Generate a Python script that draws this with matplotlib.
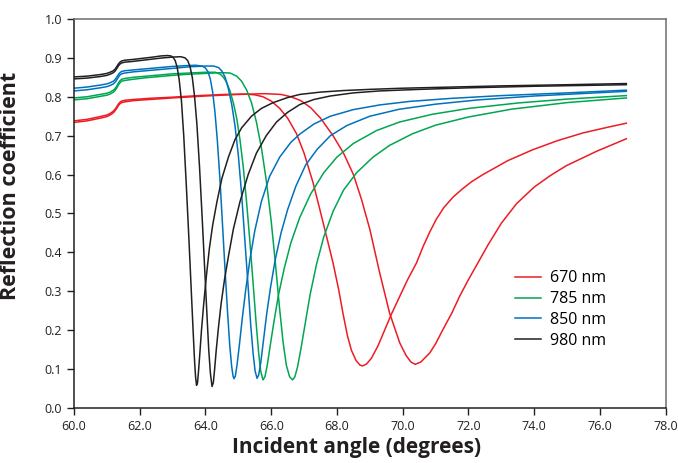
import matplotlib.pyplot as plt

# angle / reflectance pairs, two curves per wavelength
x_670a = [60.0, 60.4, 60.8, 61.0, 61.1, 61.2, 61.25, 61.3, 61.35, 61.4, 61.45, 61.55, 61.8, 62.3, 63.0, 63.8,
          64.6, 65.2, 65.5, 65.75, 66.0, 66.26, 66.5, 66.77, 67.0, 67.27, 67.45, 67.63, 67.88, 68.05, 68.19, 68.32,
          68.44, 68.58, 68.7, 68.78, 68.9, 69.05, 69.25, 69.4, 69.65, 69.91, 70.15, 70.42, 70.62, 70.82, 71.02,
          71.25, 71.53, 71.8, 72.1, 72.44, 73.2, 73.96, 74.7, 75.48, 76.2, 76.8]
y_670a = [0.738, 0.742, 0.749, 0.753, 0.757, 0.763, 0.768, 0.774, 0.781, 0.786, 0.789, 0.791, 0.793, 0.796, 0.799,
          0.803, 0.806, 0.807, 0.805, 0.800, 0.789, 0.770, 0.745, 0.705, 0.655, 0.580, 0.520, 0.459, 0.373, 0.305,
          0.240, 0.185, 0.148, 0.122, 0.110, 0.108, 0.113, 0.128, 0.160, 0.190, 0.240, 0.287, 0.330, 0.373, 0.415,
          0.452, 0.485, 0.515, 0.542, 0.562, 0.582, 0.600, 0.636, 0.664, 0.687, 0.707, 0.721, 0.732]
x_670b = [60.0, 60.4, 60.8, 61.0, 61.1, 61.2, 61.25, 61.3, 61.35, 61.4, 61.45, 61.55, 61.8, 62.3, 63.0, 64.0,
          65.0, 65.8, 66.3, 66.6, 66.9, 67.2, 67.5, 67.88, 68.2, 68.5, 68.75, 69.0, 69.3, 69.6, 69.91, 70.1, 70.25,
          70.38, 70.55, 70.82, 71.0, 71.22, 71.5, 71.73, 72.0, 72.24, 72.6, 73.0, 73.46, 74.0, 74.5, 74.98, 75.9,
          76.8]
y_670b = [0.734, 0.738, 0.745, 0.749, 0.753, 0.759, 0.764, 0.770, 0.777, 0.782, 0.785, 0.787, 0.790, 0.793, 0.797,
          0.802, 0.806, 0.808, 0.806, 0.800, 0.790, 0.772, 0.745, 0.700, 0.655, 0.600, 0.535, 0.459, 0.347, 0.244,
          0.167, 0.135, 0.118, 0.112, 0.118, 0.141, 0.165, 0.201, 0.245, 0.287, 0.330, 0.366, 0.420, 0.475, 0.525,
          0.568, 0.598, 0.623, 0.660, 0.692]

x_785a = [60.0, 60.4, 60.8, 61.0, 61.1, 61.2, 61.25, 61.3, 61.35, 61.4, 61.45, 61.55, 61.8, 62.2, 62.6, 63.0,
          63.5, 64.0, 64.3, 64.45, 64.55, 64.65, 64.75, 64.85, 64.95, 65.05, 65.15, 65.25, 65.35, 65.45, 65.54,
          65.62, 65.68, 65.75, 65.81, 65.88, 65.97, 66.08, 66.22, 66.4, 66.6, 66.87, 67.2, 67.6, 68.0, 68.5, 69.2,
          69.9, 70.9, 72.0, 73.5, 75.0, 76.8]
y_785a = [0.797, 0.800, 0.806, 0.809, 0.812, 0.817, 0.821, 0.827, 0.835, 0.841, 0.845, 0.847, 0.850, 0.853, 0.856,
          0.859, 0.861, 0.863, 0.863, 0.858, 0.850, 0.836, 0.814, 0.784, 0.745, 0.690, 0.620, 0.530, 0.430, 0.320,
          0.220, 0.140, 0.095, 0.072, 0.080, 0.110, 0.160, 0.220, 0.290, 0.360, 0.425, 0.490, 0.550, 0.605, 0.645,
          0.680, 0.713, 0.735, 0.755, 0.770, 0.784, 0.794, 0.803]
x_785b = [60.0, 60.4, 60.8, 61.0, 61.1, 61.2, 61.25, 61.3, 61.35, 61.4, 61.45, 61.55, 61.8, 62.2, 62.6, 63.0,
          63.5, 64.0, 64.5, 64.75, 64.95, 65.1, 65.25, 65.4, 65.55, 65.7, 65.85, 66.0, 66.13, 66.25, 66.36, 66.46,
          66.56, 66.65, 66.72, 66.8, 66.9, 67.02, 67.18, 67.38, 67.6, 67.88, 68.2, 68.6, 69.1, 69.6, 70.3, 71.0,
          72.0, 73.3, 75.0, 76.8]
y_785b = [0.792, 0.795, 0.801, 0.804, 0.807, 0.812, 0.816, 0.822, 0.830, 0.836, 0.840, 0.842, 0.845, 0.849, 0.852,
          0.855, 0.858, 0.860, 0.862, 0.861, 0.853, 0.840, 0.818, 0.785, 0.735, 0.670, 0.585, 0.480, 0.370, 0.260,
          0.170, 0.110, 0.080, 0.072, 0.080, 0.105, 0.150, 0.210, 0.290, 0.370, 0.440, 0.505, 0.560, 0.605, 0.645,
          0.675, 0.705, 0.727, 0.748, 0.768, 0.785, 0.797]

x_850a = [60.0, 60.4, 60.8, 61.0, 61.1, 61.2, 61.25, 61.3, 61.35, 61.4, 61.45, 61.55, 61.8, 62.2, 62.6, 63.0,
          63.4, 63.7, 63.9, 64.0, 64.08, 64.15, 64.22, 64.29, 64.36, 64.44, 64.52, 64.6, 64.67, 64.74, 64.8, 64.84,
          64.87, 64.91, 64.96, 65.03, 65.12, 65.22, 65.35, 65.5, 65.7, 65.95, 66.26, 66.6, 66.87, 67.3, 67.8, 68.5,
          69.3, 70.2, 71.5, 73.0, 75.0, 76.8]
y_850a = [0.822, 0.825, 0.830, 0.833, 0.836, 0.840, 0.844, 0.850, 0.857, 0.862, 0.865, 0.867, 0.869, 0.872, 0.875,
          0.878, 0.880, 0.881, 0.879, 0.874, 0.864, 0.845, 0.812, 0.760, 0.690, 0.590, 0.470, 0.350, 0.250, 0.160,
          0.105, 0.082, 0.075, 0.082, 0.110, 0.160, 0.230, 0.300, 0.380, 0.455, 0.530, 0.595, 0.645, 0.683, 0.704,
          0.730, 0.750, 0.767, 0.779, 0.788, 0.796, 0.803, 0.810, 0.817]
x_850b = [60.0, 60.4, 60.8, 61.0, 61.1, 61.2, 61.25, 61.3, 61.35, 61.4, 61.45, 61.55, 61.8, 62.2, 62.6, 63.0,
          63.5, 64.0, 64.25, 64.4, 64.5, 64.6, 64.7, 64.8, 64.9, 65.0, 65.1, 65.2, 65.3, 65.38, 65.45, 65.51, 65.57,
          65.62, 65.68, 65.76, 65.86, 65.98, 66.12, 66.3, 66.5, 66.75, 67.05, 67.4, 67.8, 68.3, 69.0, 69.9, 71.0,
          72.3, 74.0, 76.8]
y_850b = [0.815, 0.818, 0.823, 0.826, 0.829, 0.833, 0.837, 0.843, 0.850, 0.856, 0.859, 0.861, 0.864, 0.867, 0.870,
          0.873, 0.877, 0.879, 0.879, 0.875, 0.866, 0.850, 0.820, 0.780, 0.725, 0.650, 0.550, 0.430, 0.310, 0.210,
          0.140, 0.095, 0.076, 0.085, 0.115, 0.170, 0.240, 0.310, 0.380, 0.450, 0.510, 0.570, 0.625, 0.665, 0.700,
          0.726, 0.750, 0.768, 0.781, 0.792, 0.802, 0.814]

x_980a = [60.0, 60.4, 60.8, 61.0, 61.1, 61.2, 61.25, 61.3, 61.35, 61.4, 61.45, 61.55, 61.8, 62.1, 62.4, 62.65,
          62.85, 62.95, 63.02, 63.08, 63.14, 63.2, 63.27, 63.34, 63.42, 63.5, 63.57, 63.63, 63.67, 63.7, 63.73,
          63.76, 63.79, 63.83, 63.88, 63.95, 64.03, 64.12, 64.22, 64.35, 64.5, 64.7, 64.9, 65.1, 65.4, 65.7, 66.06,
          66.5, 66.87, 67.5, 68.2, 69.0, 70.0, 71.5, 73.0, 75.0, 76.8]
y_980a = [0.851, 0.853, 0.857, 0.860, 0.863, 0.867, 0.871, 0.877, 0.884, 0.889, 0.892, 0.894, 0.896, 0.899, 0.902,
          0.905, 0.906, 0.905, 0.901, 0.893, 0.876, 0.845, 0.790, 0.700, 0.570, 0.430, 0.300, 0.190, 0.120, 0.080,
          0.058, 0.065, 0.095, 0.140, 0.200, 0.270, 0.340, 0.410, 0.470, 0.530, 0.590, 0.645, 0.690, 0.720, 0.750,
          0.770, 0.785, 0.798, 0.806, 0.812, 0.816, 0.819, 0.822, 0.825, 0.828, 0.831, 0.834]
x_980b = [60.0, 60.4, 60.8, 61.0, 61.1, 61.2, 61.25, 61.3, 61.35, 61.4, 61.45, 61.55, 61.8, 62.1, 62.4, 62.7,
          63.0, 63.25, 63.38, 63.46, 63.53, 63.6, 63.67, 63.74, 63.82, 63.9, 63.97, 64.04, 64.1, 64.15, 64.2, 64.24,
          64.28, 64.33, 64.4, 64.48, 64.58, 64.7, 64.85, 65.05, 65.3, 65.55, 65.85, 66.16, 66.5, 66.87, 67.3, 67.8,
          68.5, 69.3, 70.5, 72.0, 74.0, 76.8]
y_980b = [0.846, 0.848, 0.852, 0.855, 0.858, 0.862, 0.866, 0.872, 0.879, 0.884, 0.887, 0.889, 0.891, 0.894, 0.897,
          0.900, 0.902, 0.903, 0.900, 0.893, 0.878, 0.850, 0.800, 0.730, 0.620, 0.490, 0.370, 0.250, 0.150, 0.090,
          0.055, 0.065, 0.100, 0.150, 0.210, 0.270, 0.330, 0.390, 0.460, 0.530, 0.600, 0.655, 0.700, 0.735, 0.760,
          0.780, 0.793, 0.802, 0.810, 0.815, 0.819, 0.823, 0.827, 0.831]

plt.rcParams["font.family"] = ["Open Sans", "DejaVu Sans"]

fig = plt.figure(figsize=(6.78, 4.63), dpi=100)
ax = fig.add_axes([0.109, 0.119, 0.873, 0.84])

red = "#ed1c24"
green = "#00a651"
blue = "#0072bc"
black = "#231f20"
lw = 1.1

ax.plot(x_670a, y_670a, color=red, lw=lw, label="670 nm")
ax.plot(x_670b, y_670b, color=red, lw=lw)
ax.plot(x_785a, y_785a, color=green, lw=lw, label="785 nm")
ax.plot(x_785b, y_785b, color=green, lw=lw)
ax.plot(x_850a, y_850a, color=blue, lw=lw, label="850 nm")
ax.plot(x_850b, y_850b, color=blue, lw=lw)
ax.plot(x_980a, y_980a, color=black, lw=lw, label="980 nm")
ax.plot(x_980b, y_980b, color=black, lw=lw)

ax.set_xlim(60, 78)
ax.set_ylim(0, 1.0)
ax.set_xticks([60 + 2 * i for i in range(10)])
ax.set_xticklabels([f"{60 + 2 * i:.1f}" for i in range(10)])
ax.set_yticks([i / 10 for i in range(11)])
ax.set_yticklabels([f"{i / 10:.1f}" for i in range(11)])
ax.tick_params(direction="out", length=5, width=1, labelsize=9, colors="#231f20")

for side in ["left", "bottom"]:
    ax.spines[side].set_color("#231f20")
    ax.spines[side].set_linewidth(1.1)
for side in ["right", "top"]:
    ax.spines[side].set_color("#6d6e71")
    ax.spines[side].set_linewidth(1.1)

ax.set_xlabel("Incident angle (degrees)", fontsize=15, fontweight="bold", color="#231f20", labelpad=7)
ax.set_ylabel("Reflection coefficient", fontsize=15.5, fontweight="bold", color="#231f20", labelpad=8)
ax.xaxis.set_label_coords(0.478, -0.075)
ax.yaxis.set_label_coords(-0.09, 0.571)

ax.legend(loc="upper left", bbox_to_anchor=(0.735, 0.37), frameon=False, fontsize=11.5,
          handlelength=1.6, handletextpad=0.6, labelspacing=0.3, borderaxespad=0)

fig.savefig("out.png", dpi=100)
